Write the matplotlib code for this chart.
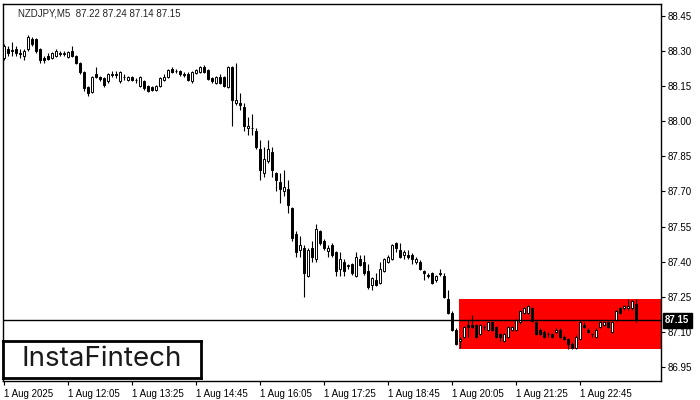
import matplotlib
matplotlib.use("Agg")
import matplotlib.pyplot as plt
import matplotlib.transforms as mtransforms
from matplotlib.patches import Rectangle
import numpy as np

opens = [88.27, 88.31, 88.305, 88.31, 88.292, 88.28, 88.31, 88.35, 88.35, 88.31,
         88.27, 88.28, 88.27, 88.28, 88.292, 88.288, 88.275, 88.30, 88.28, 88.25,
         88.21, 88.145, 88.125, 88.20, 88.19, 88.185, 88.17, 88.198, 88.201, 88.17,
         88.191, 88.175, 88.19, 88.177, 88.15, 88.17, 88.15, 88.145, 88.135, 88.15,
         88.175, 88.19, 88.225, 88.215, 88.215, 88.20, 88.20, 88.17, 88.205, 88.21,
         88.23, 88.22, 88.185, 88.165, 88.19, 88.19, 88.145, 88.23, 88.078, 88.08,
         88.06, 87.97, 87.971, 87.96, 87.88, 87.78, 87.83, 87.87, 87.78, 87.74,
         87.70, 87.71, 87.63, 87.52, 87.45, 87.46, 87.34, 87.46, 87.41, 87.53,
         87.49, 87.445, 87.47, 87.44, 87.37, 87.40, 87.38, 87.39, 87.34, 87.41,
         87.40, 87.36, 87.30, 87.32, 87.31, 87.36, 87.40, 87.41, 87.48, 87.45,
         87.43, 87.43, 87.43, 87.40, 87.40, 87.36, 87.341, 87.35, 87.32, 87.348,
         87.34, 87.24, 87.18, 87.11, 87.06, 87.08, 87.13, 87.13, 87.13, 87.09,
         87.121, 87.11, 87.14, 87.12, 87.09, 87.06, 87.08, 87.11, 87.11, 87.14,
         87.18, 87.18, 87.20, 87.14, 87.11, 87.10, 87.091, 87.09, 87.10, 87.11,
         87.08, 87.07, 87.05, 87.03, 87.07, 87.13, 87.11, 87.092, 87.08, 87.12,
         87.13, 87.14, 87.10, 87.15, 87.20, 87.20, 87.20, 87.20, 87.22]

closes = [88.32, 88.29, 88.30, 88.29, 88.288, 88.30, 88.36, 88.33, 88.30, 88.26,
          88.26, 88.265, 88.29, 88.30, 88.289, 88.291, 88.295, 88.28, 88.25, 88.21,
          88.14, 88.12, 88.19, 88.19, 88.18, 88.155, 88.20, 88.201, 88.197, 88.21,
          88.189, 88.19, 88.175, 88.175, 88.19, 88.14, 88.13, 88.135, 88.15, 88.185,
          88.19, 88.22, 88.21, 88.213, 88.20, 88.198, 88.175, 88.21, 88.22, 88.23,
          88.21, 88.18, 88.17, 88.19, 88.165, 88.15, 88.23, 88.09, 88.09, 88.07,
          87.98, 87.98, 87.969, 87.89, 87.79, 87.84, 87.88, 87.79, 87.75, 87.71,
          87.72, 87.64, 87.50, 87.44, 87.47, 87.35, 87.45, 87.42, 87.54, 87.48,
          87.46, 87.46, 87.43, 87.36, 87.41, 87.36, 87.385, 87.35, 87.42, 87.385,
          87.35, 87.29, 87.33, 87.30, 87.37, 87.41, 87.42, 87.47, 87.46, 87.42,
          87.44, 87.42, 87.41, 87.41, 87.37, 87.35, 87.339, 87.31, 87.34, 87.352,
          87.25, 87.18, 87.11, 87.05, 87.07, 87.12, 87.12, 87.12, 87.08, 87.13,
          87.119, 87.14, 87.11, 87.08, 87.08, 87.09, 87.12, 87.12, 87.15, 87.19,
          87.20, 87.21, 87.145, 87.09, 87.09, 87.08, 87.089, 87.08, 87.11, 87.08,
          87.07, 87.05, 87.03, 87.08, 87.14, 87.12, 87.10, 87.089, 87.11, 87.14,
          87.14, 87.12, 87.14, 87.19, 87.18, 87.21, 87.21, 87.23, 87.15]

highs = [88.33, 88.32, 88.34, 88.32, 88.31, 88.31, 88.37, 88.36, 88.355, 88.315,
         88.28, 88.29, 88.295, 88.31, 88.30, 88.30, 88.30, 88.32, 88.285, 88.255,
         88.215, 88.15, 88.195, 88.23, 88.195, 88.19, 88.205, 88.215, 88.215, 88.215,
         88.20, 88.195, 88.195, 88.185, 88.195, 88.175, 88.155, 88.15, 88.155, 88.19,
         88.20, 88.225, 88.23, 88.225, 88.22, 88.21, 88.21, 88.215, 88.225, 88.235,
         88.24, 88.225, 88.19, 88.195, 88.20, 88.195, 88.235, 88.235, 88.25, 88.12,
         88.08, 88.02, 88.03, 87.97, 87.92, 87.89, 87.92, 87.89, 87.785, 87.78,
         87.79, 87.75, 87.635, 87.53, 87.51, 87.47, 87.46, 87.49, 87.56, 87.535,
         87.495, 87.47, 87.48, 87.445, 87.44, 87.41, 87.39, 87.395, 87.44, 87.43,
         87.43, 87.39, 87.335, 87.35, 87.40, 87.415, 87.43, 87.475, 87.485, 87.48,
         87.45, 87.45, 87.435, 87.42, 87.405, 87.365, 87.35, 87.355, 87.345, 87.37,
         87.35, 87.28, 87.19, 87.115, 87.08, 87.125, 87.15, 87.17, 87.135, 87.135,
         87.13, 87.145, 87.145, 87.125, 87.095, 87.095, 87.125, 87.125, 87.155, 87.195,
         87.205, 87.215, 87.205, 87.145, 87.115, 87.11, 87.10, 87.095, 87.115, 87.115,
         87.085, 87.075, 87.055, 87.085, 87.145, 87.14, 87.115, 87.095, 87.115, 87.145,
         87.145, 87.145, 87.145, 87.195, 87.205, 87.215, 87.24, 87.235, 87.24]

lows = [88.26, 88.28, 88.28, 88.28, 88.27, 88.26, 88.30, 88.32, 88.29, 88.25,
        88.25, 88.26, 88.265, 88.275, 88.28, 88.28, 88.27, 88.275, 88.245, 88.20,
        88.13, 88.11, 88.12, 88.185, 88.17, 88.145, 88.165, 88.19, 88.185, 88.165,
        88.175, 88.17, 88.17, 88.165, 88.145, 88.135, 88.125, 88.13, 88.13, 88.145,
        88.17, 88.185, 88.205, 88.205, 88.195, 88.19, 88.17, 88.165, 88.20, 88.205,
        88.205, 88.175, 88.165, 88.16, 88.16, 88.145, 88.14, 87.98, 88.07, 88.05,
        87.96, 87.94, 87.94, 87.88, 87.75, 87.76, 87.82, 87.76, 87.70, 87.65,
        87.68, 87.61, 87.49, 87.42, 87.42, 87.25, 87.335, 87.40, 87.40, 87.47,
        87.45, 87.42, 87.42, 87.34, 87.34, 87.34, 87.37, 87.345, 87.335, 87.38,
        87.345, 87.285, 87.28, 87.295, 87.305, 87.355, 87.395, 87.405, 87.44, 87.415,
        87.41, 87.41, 87.39, 87.39, 87.365, 87.32, 87.33, 87.305, 87.315, 87.34,
        87.245, 87.175, 87.105, 87.045, 87.03, 87.075, 87.08, 87.115, 87.075, 87.085,
        87.11, 87.105, 87.105, 87.075, 87.06, 87.055, 87.075, 87.105, 87.105, 87.135,
        87.175, 87.175, 87.14, 87.085, 87.085, 87.075, 87.08, 87.075, 87.095, 87.075,
        87.065, 87.025, 87.025, 87.025, 87.065, 87.115, 87.095, 87.08, 87.075, 87.115,
        87.125, 87.115, 87.095, 87.145, 87.175, 87.195, 87.195, 87.195, 87.14]

x_tick_labels = ["1 Aug 2025", "1 Aug 12:05", "1 Aug 13:25", "1 Aug 14:45",
                 "1 Aug 16:05", "1 Aug 17:25", "1 Aug 18:45", "1 Aug 20:05",
                 "1 Aug 21:25", "1 Aug 22:45"]
y_ticks = [86.95, 87.10, 87.25, 87.40, 87.55, 87.70, 87.85, 88.00, 88.15, 88.30, 88.45]
last_price = 87.15
zone_start = 113.75
zone_low, zone_high = 87.025, 87.24
title_text = "NZDJPY,M5  87.22 87.24 87.14 87.15"

plt.rcParams['font.family'] = ['Liberation Sans', 'DejaVu Sans']

fig = plt.figure(figsize=(7, 4), dpi=100)
W, H = 700, 400
ax = fig.add_axes([3 / W, 1 - 381 / H, (661 - 3) / W, (381 - 4) / H])

o = np.array(opens); c = np.array(closes)
h = np.maximum(np.array(highs), np.maximum(o, c))
l = np.minimum(np.array(lows), np.minimum(o, c))
x = np.arange(len(o))

ax.add_patch(Rectangle((zone_start, zone_low), 200, zone_high - zone_low,
                       facecolor='#ff0000', edgecolor='none', zorder=1))

ax.vlines(x, l, h, color='black', linewidth=0.8, zorder=2)
up = c >= o
bottoms = np.minimum(o, c)
heights = np.maximum(np.abs(c - o), 0.0005)
ax.bar(x[up], heights[up], bottom=bottoms[up], width=0.55, facecolor='white',
       edgecolor='black', linewidth=0.7, zorder=3)
ax.bar(x[~up], heights[~up], bottom=bottoms[~up], width=0.55, facecolor='black',
       edgecolor='black', linewidth=0.7, zorder=3)

ax.axhline(last_price, color='black', linewidth=1.0, zorder=4)

ax.set_xlim(-0.25, 164.25)
ax.set_ylim(86.890, 88.501)

ax.set_xticks(np.arange(0, len(x_tick_labels) * 16, 16))
ax.set_xticklabels(x_tick_labels, ha='left', fontsize=7)
ax.yaxis.tick_right()
ax.set_yticks(y_ticks)
ax.set_yticklabels([f"{v:.2f}" for v in y_ticks], fontsize=7)
ax.tick_params(axis='both', direction='out', length=3, width=0.8, color='black', pad=2)
ax.tick_params(axis='x', pad=3)
for s in ax.spines.values():
    s.set_linewidth(1.0)
    s.set_color('black')

trans = mtransforms.blended_transform_factory(ax.transAxes, ax.transData)
ax.text(1.006, last_price, f"{last_price:.2f}", transform=trans, ha='left', va='center',
        fontsize=7, color='white', fontweight='bold',
        bbox=dict(facecolor='black', edgecolor='black', boxstyle='square,pad=0.25'),
        zorder=10, clip_on=False)

fig.text(18 / W, 1 - 14 / H, title_text, fontsize=7, color='#222222', ha='left', va='center')

logo_ax = fig.add_axes([3 / W, 1 - 378 / H, 198 / W, 37 / H])
logo_ax.set_xticks([]); logo_ax.set_yticks([])
logo_ax.set_facecolor('white')
for s in logo_ax.spines.values():
    s.set_linewidth(2.0)
    s.set_color('black')
logo_ax.text(0.5, 0.5, "InstaFintech", fontsize=20, family=['Inter', 'DejaVu Sans'],
             color='#1a1a1a', ha='center', va='center', transform=logo_ax.transAxes)

fig.savefig("out.png", dpi=100)
